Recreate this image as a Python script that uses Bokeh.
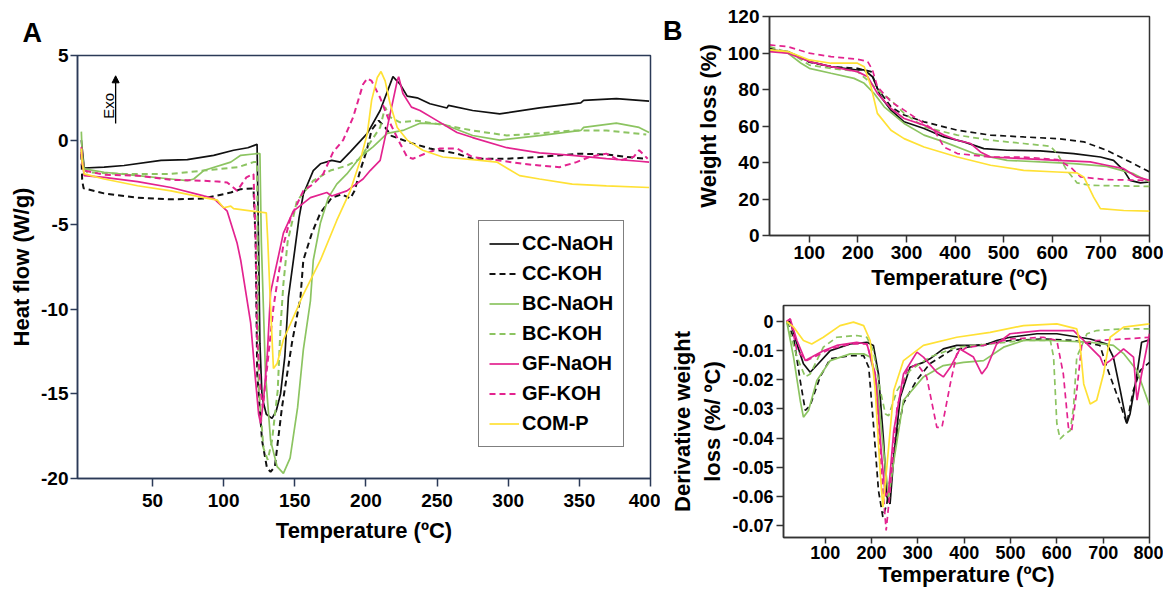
from bokeh.plotting import figure
from bokeh.models import FixedTicker, Label, Arrow, NormalHead, Range1d, LinearAxis
from bokeh.layouts import row, column
from bokeh.embed import file_html
from bokeh.resources import INLINE

SERIES = ["CC-NaOH", "CC-KOH", "BC-NaOH", "BC-KOH", "GF-NaOH", "GF-KOH", "COM-P"]
COLORS = ["#111111", "#111111", "#8cc461", "#8cc461", "#e3238f", "#e3238f", "#ffe135"]
DASHES = ["solid", "6 4", "solid", "6 4", "solid", "6 4", "solid"]

# ---------------- Panel A: DSC heat flow (W/g) vs temperature ----------------
a_cc_naoh_x = [0, 0.6, 2, 16, 30, 56, 74.5, 93, 107, 117, 123.5, 124.5, 125.5, 127, 130, 134, 137, 140, 143, 145.5,
               150, 153, 156, 163, 168, 176, 182, 189, 201, 210, 219, 224, 229, 236, 245, 257, 258, 275, 294, 322,
               351, 353, 376, 399]
a_cc_naoh_y = [0.0, -0.5, -1.65, -1.6, -1.5, -1.2, -1.15, -0.9, -0.6, -0.45, -0.25, -6.0, -12.0, -15.2, -16.2, -16.45,
               -16.0, -15.0, -12.8, -9.3, -6.5, -4.6, -3.2, -1.8, -1.4, -1.2, -1.3, -0.7, 0.4, 1.75, 3.75, 3.3, 2.6,
               2.5, 2.15, 1.9, 2.05, 1.75, 1.55, 1.9, 2.2, 2.35, 2.45, 2.3]
a_cc_koh_x = [0, 0.6, 1.6, 16, 39.5, 63, 86, 105, 112, 121, 122.5, 123.6, 127, 130.5, 133, 136, 141, 148, 154, 156,
              162, 168, 176, 183, 189, 192, 196, 200.6, 204, 209, 213.5, 218, 231, 245, 264, 275, 299, 322, 350, 369,
              383, 397]
a_cc_koh_y = [-0.8, -2.4, -2.85, -3.15, -3.4, -3.5, -3.45, -3.1, -2.9, -2.85, -6.0, -13.8, -17.75, -19.4, -19.6, -19.3,
              -15.8, -12.0, -9.3, -7.1, -5.5, -4.3, -3.4, -3.2, -3.45, -3.0, -1.8, -0.6, 0.6, 1.15, 0.75, 0.25, -0.15,
              -0.5, -0.8, -1.1, -1.1, -1.0, -0.8, -0.85, -1.0, -1.1]
a_bc_naoh_x = [0, 0.6, 2, 16, 39.5, 63, 74.5, 79, 86, 105, 112, 123.5, 125.5, 126.5, 129.4, 133, 137.6, 142, 146.7,
               152, 156, 161, 163, 168, 173.6, 179.5, 186.6, 196, 205, 215, 226, 238, 254, 275, 294, 322, 351, 353,
               376, 392, 399]
a_bc_naoh_y = [0.5, -0.8, -1.7, -1.9, -2.1, -2.3, -2.4, -2.3, -1.8, -1.3, -0.9, -0.8, -0.8, -6.0, -13.8, -17.75, -19.3,
               -19.7, -18.8, -15.8, -12.4, -9.5, -7.1, -4.9, -3.4, -2.6, -2.0, -1.0, -0.4, 0.4, 0.57, 1.0, 0.95, 0.27,
               0.0, 0.27, 0.57, 0.75, 1.0, 0.75, 0.45]
a_bc_koh_x = [0, 0.6, 4, 30, 63, 86, 110, 121, 123.5, 124.6, 128, 131, 134, 138, 140, 142, 145, 151.5, 163, 175,
              187, 196, 201, 210, 213.5, 217, 224, 236, 254, 275, 299, 322, 345, 369, 397]
a_bc_koh_y = [-0.5, -1.5, -1.9, -2.0, -2.0, -1.8, -1.6, -1.3, -1.3, -14.6, -18.2, -18.9, -17.75, -14.8, -11.0, -8.5,
              -6.0, -3.6, -2.4, -1.8, -1.5, -1.1, -0.4, 0.75, 1.95, 1.35, 1.05, 1.15, 0.9, 0.57, 0.27, 0.4, 0.57, 0.57,
              0.33]
a_gf_naoh_x = [0, 0.6, 2, 16, 39.5, 63, 86, 93, 102.5, 109.5, 112, 119, 122, 124.6, 126, 128, 130.6, 133, 142, 149,
               161, 172.5, 176, 186.6, 198, 203, 210, 215, 222, 223, 226, 232, 238, 250, 264, 275, 299, 322, 345, 369,
               392, 399]
a_gf_naoh_y = [-0.4, -1.2, -2.1, -2.2, -2.45, -2.8, -3.3, -3.45, -4.2, -6.1, -7.1, -10.8, -13.8, -16.2, -16.75, -15.4,
               -12.8, -9.0, -5.5, -4.2, -3.4, -3.1, -3.3, -3.0, -2.3, -1.8, -1.2, 0.75, 3.5, 3.75, 2.75, 1.95, 1.75,
               1.15, 0.45, 0.15, -0.45, -0.75, -0.9, -1.1, -1.25, -1.3]
a_gf_koh_x = [0, 0.6, 2, 16, 39.5, 63, 86, 95.6, 102.5, 109.5, 116, 121, 122.5, 123.6, 126, 127.5, 130.6, 135, 137.5,
              142, 147, 156, 163, 170, 177, 184, 191, 198, 201, 204, 210, 217, 224, 229, 233, 243, 252, 264, 275, 294,
              310, 322, 336, 348, 357, 369, 378, 388, 392, 398]
a_gf_koh_y = [-0.7, -1.4, -1.8, -2.05, -2.1, -2.35, -2.4, -2.45, -2.5, -3.0, -2.2, -2.0, -6.0, -11.8, -14.8, -15.8,
              -13.4, -9.9, -8.5, -6.2, -4.6, -3.0, -2.6, -2.0, -0.7, 0.0, 1.35, 3.3, 3.65, 3.5, 2.5, 1.0, -0.2, -1.0,
              -1.1, -0.75, -0.5, -0.5, -1.0, -1.2, -1.4, -1.5, -1.6, -1.3, -1.0, -0.8, -1.2, -1.0, -0.6, -1.1]
a_com_p_x = [0, 0.6, 2, 16, 39.5, 63, 86, 95.6, 100, 105, 107, 130, 131, 133, 135, 137.6, 142, 152, 155, 168,
             179.5, 189, 196, 201, 204, 208, 210.6, 213.5, 217, 222, 229, 240, 254, 275, 292, 308, 322, 345, 369, 399]
a_com_p_y = [-0.5, -1.3, -2.0, -2.3, -2.7, -3.0, -3.4, -3.55, -4.0, -3.9, -4.05, -4.3, -5.9, -9.9, -13.5, -13.2, -11.8,
             -9.9, -9.3, -7.1, -4.75, -3.0, -1.2, 0.4, 2.35, 3.7, 4.05, 3.5, 2.15, 0.75, 0.0, -0.6, -1.0, -1.15, -1.3,
             -2.1, -2.3, -2.6, -2.7, -2.8]

# ---------------- Panel B (top): weight loss (%) ----------------
b1_cc_naoh_x = [18, 55.5, 100, 144.5, 199, 213, 230, 247, 268, 295, 336, 377, 418, 459, 507, 575, 644, 699, 726, 747,
                760, 781, 800]
b1_cc_naoh_y = [101.7, 100.8, 95.3, 92.5, 90.7, 90.7, 87, 76, 68.7, 62.3, 58.6, 54, 51.3, 47.6, 46.7, 46.4, 44.9, 43,
                41.2, 35.7, 30.2, 28.8, 29.3]
b1_cc_koh_x = [18, 62, 100, 144.5, 199, 227, 240, 268, 295, 336, 404.5, 473, 541, 610, 665, 712, 740, 767, 800]
b1_cc_koh_y = [102.6, 99.9, 95, 92.5, 91.6, 89.8, 80.6, 70.5, 66, 62.3, 57.7, 55, 54, 53.1, 51.3, 46.7, 43, 39.4, 34.8]
b1_bc_naoh_x = [18, 55.5, 83, 100, 144.5, 192, 213, 233, 254, 295, 336, 377, 439, 507, 575, 644, 712, 767, 800]
b1_bc_naoh_y = [101.7, 99.9, 94.4, 91.6, 88.9, 86.1, 83.4, 77.9, 70.5, 61.4, 55, 51.3, 44.9, 41.2, 40.3, 39.4, 37.9,
                33.9, 29.3]
b1_bc_koh_x = [18, 62, 100, 144.5, 199, 227, 240, 268, 295, 336, 404.5, 473, 541, 596, 610, 630, 651, 678, 800]
b1_bc_koh_y = [103.5, 99.9, 93.4, 91.6, 89.8, 83.4, 79.7, 74.2, 66.9, 59.5, 55, 52.2, 50.4, 48.9, 44.9, 35.7, 28.8,
               27.5, 26.9]
b1_gf_naoh_x = [18, 55.5, 100, 144.5, 199, 220, 240, 268, 295, 336, 377, 404.5, 432, 452, 473, 541, 610, 678, 712,
                747, 774, 800]
b1_gf_naoh_y = [100.8, 99.9, 95.3, 92.5, 89.8, 87, 77.9, 69.6, 64.1, 60.5, 55, 52.2, 50.4, 45.8, 43, 42.1, 41.2, 40.3,
                38.5, 36.6, 32.1, 30.2]
b1_gf_koh_x = [18, 55.5, 100, 144.5, 199, 220, 230, 240, 268, 295, 336, 357, 377, 404.5, 473, 541, 610, 637, 658, 712,
               800]
b1_gf_koh_y = [104.4, 103.5, 99.9, 98, 96.6, 95.3, 90.7, 81.5, 73.3, 68.7, 61.4, 57.7, 48.5, 44.9, 43, 43, 41.6, 37.6,
               32.1, 30.6, 30.2]
b1_com_p_x = [18, 55.5, 100, 144.5, 199, 213, 227, 240, 268, 295, 336, 404.5, 473, 541, 610, 651, 665, 685, 699, 747,
              800]
b1_com_p_y = [101.7, 100.8, 96.2, 94.4, 94.4, 92.5, 81.5, 66.9, 57.7, 53.1, 48.5, 43, 38.5, 35.7, 34.8, 34.3, 32, 21,
              14.7, 13.7, 13.4]

# ---------------- Panel B (bottom): derivative weight loss (%/ºC) ----------------
b2_cc_naoh_x = [17, 24.5, 39, 53, 67.6, 82, 111, 154, 190, 204, 215, 226, 233, 240, 248, 262, 283, 312, 326, 355,
                384, 442, 470, 499, 557, 600, 672, 708, 722, 737, 751, 758, 773, 783, 800]
b2_cc_naoh_y = [0, 0, -0.0077, -0.0145, -0.0174, -0.015, -0.01, -0.0077, -0.0071, -0.0082, -0.018, -0.041, -0.06,
                -0.0626, -0.0465, -0.026, -0.0157, -0.014, -0.0128, -0.0094, -0.0082, -0.0082, -0.0065, -0.0054,
                -0.0042, -0.0042, -0.006, -0.0077, -0.0122, -0.0237, -0.035, -0.0317, -0.018, -0.0071, -0.0063]
b2_cc_koh_x = [17, 31.7, 46, 57, 67.6, 89, 111, 154, 183, 194, 204, 215, 224.5, 233, 248, 269, 298, 326, 370, 427,
               499, 571, 636, 693, 708, 729, 744, 751, 765, 780, 800]
b2_cc_koh_y = [0, -0.0054, -0.0202, -0.0305, -0.0288, -0.019, -0.0128, -0.0117, -0.0117, -0.0157, -0.035, -0.058,
               -0.0671, -0.0626, -0.0443, -0.028, -0.02, -0.0145, -0.01, -0.0082, -0.0065, -0.006, -0.0065, -0.0082,
               -0.0157, -0.0248, -0.0317, -0.035, -0.0237, -0.0168, -0.014]
b2_bc_naoh_x = [17, 31.7, 46, 53, 64, 82, 111, 154, 183, 197, 211.5, 226, 237, 248, 269, 312, 355, 398.5, 442, 485,
                528, 586, 672, 722, 744, 773, 800]
b2_bc_naoh_y = [0, -0.0122, -0.027, -0.0328, -0.0305, -0.0202, -0.0134, -0.0111, -0.0111, -0.0122, -0.0214, -0.0443,
                -0.0603, -0.048, -0.027, -0.019, -0.0151, -0.014, -0.0134, -0.0088, -0.0065, -0.0065, -0.0071,
                -0.0082, -0.011, -0.0168, -0.0288]
b2_bc_koh_x = [17, 39, 57, 67.6, 96, 125, 168, 190, 204, 219, 230, 237, 255, 283, 326, 384, 456, 528, 586, 593,
               600, 607, 618, 629, 636, 643, 665, 686, 744, 800]
b2_bc_koh_y = [0, -0.0122, -0.019, -0.018, -0.0088, -0.0054, -0.0048, -0.0054, -0.01, -0.0237, -0.0317, -0.0323,
               -0.0237, -0.0168, -0.0122, -0.0088, -0.0077, -0.0065, -0.0065, -0.0122, -0.035, -0.0403, -0.0385,
               -0.0374, -0.0294, -0.0122, -0.0042, -0.0031, -0.0025, -0.0025]
b2_gf_naoh_x = [17, 24.5, 39, 57, 71, 96, 125, 168, 190, 208, 222, 230, 237, 248, 269, 298, 312, 341, 355, 370,
                391, 420, 438, 449, 470, 499, 564, 636, 658, 672, 693.5, 700.7, 715, 744, 765.5, 773, 783, 800]
b2_gf_naoh_y = [0, 0.0009, -0.0065, -0.0134, -0.0122, -0.01, -0.0082, -0.0071, -0.0077, -0.018, -0.0465, -0.06,
                -0.058, -0.0374, -0.018, -0.0105, -0.0122, -0.0174, -0.019, -0.0157, -0.0094, -0.0122, -0.018,
                -0.0157, -0.0077, -0.0042, -0.0031, -0.0031, -0.0065, -0.0088, -0.0122, -0.015, -0.0134, -0.0094,
                -0.0122, -0.027, -0.018, -0.0042]
b2_gf_koh_x = [17, 24.5, 39, 60.4, 82, 111, 154, 190, 208, 222, 231.6, 240, 255, 276, 298, 319, 341, 352, 370, 384,
               406, 442, 499, 571, 600, 614, 625, 632, 643, 654, 686, 744, 800]
b2_gf_koh_y = [0, 0.0009, -0.01, -0.0134, -0.0117, -0.0094, -0.0077, -0.0077, -0.018, -0.0523, -0.0717, -0.058,
               -0.0294, -0.0168, -0.0145, -0.019, -0.0363, -0.0363, -0.0214, -0.0111, -0.0088, -0.0082, -0.006,
               -0.0054, -0.0065, -0.018, -0.0363, -0.0374, -0.0237, -0.0077, -0.0065, -0.006, -0.0054]
b2_com_p_x = [17, 31.7, 53, 71, 96, 132, 161, 183, 197, 208, 219, 224.5, 233, 248, 269, 312, 384, 456, 528, 600,
              643, 650, 658, 672, 686, 700.7, 715, 744, 800]
b2_com_p_y = [0, -0.0019, -0.0065, -0.0077, -0.0054, -0.0014, -0.0002, -0.0014, -0.0065, -0.0237, -0.0523, -0.0637,
              -0.05, -0.0237, -0.0134, -0.0082, -0.0054, -0.0037, -0.0014, -0.0008, -0.0025, -0.0077, -0.0214,
              -0.0283, -0.027, -0.018, -0.0054, -0.0019, -0.0008]

A_X_TICKS = [50, 100, 150, 200, 250, 300, 350, 400]
A_Y_TICKS = [-20, -15, -10, -5, 0, 5]
A_Y_LABELS = ["-20", "-15", "-10", "-5", "0", "5"]
B_X_TICKS = [100, 200, 300, 400, 500, 600, 700, 800]
B1_Y_TICKS = [0, 20, 40, 60, 80, 100, 120]
B2_Y_TICKS = [0, -0.01, -0.02, -0.03, -0.04, -0.05, -0.06, -0.07]
B2_Y_LABELS = ["0", "-0.01", "-0.02", "-0.03", "-0.04", "-0.05", "-0.06", "-0.07"]

A_DATA = [(a_cc_naoh_x, a_cc_naoh_y), (a_cc_koh_x, a_cc_koh_y), (a_bc_naoh_x, a_bc_naoh_y), (a_bc_koh_x, a_bc_koh_y),
          (a_gf_naoh_x, a_gf_naoh_y), (a_gf_koh_x, a_gf_koh_y), (a_com_p_x, a_com_p_y)]
B1_DATA = [(b1_cc_naoh_x, b1_cc_naoh_y), (b1_cc_koh_x, b1_cc_koh_y), (b1_bc_naoh_x, b1_bc_naoh_y),
           (b1_bc_koh_x, b1_bc_koh_y), (b1_gf_naoh_x, b1_gf_naoh_y), (b1_gf_koh_x, b1_gf_koh_y),
           (b1_com_p_x, b1_com_p_y)]
B2_DATA = [(b2_cc_naoh_x, b2_cc_naoh_y), (b2_cc_koh_x, b2_cc_koh_y), (b2_bc_naoh_x, b2_bc_naoh_y),
           (b2_bc_koh_x, b2_bc_koh_y), (b2_gf_naoh_x, b2_gf_naoh_y), (b2_gf_koh_x, b2_gf_koh_y),
           (b2_com_p_x, b2_com_p_y)]

FONT = "Liberation Sans"


def style(p, axis_color, tick_size):
    for ax in p.axis:
        ax.axis_line_color = axis_color
        ax.axis_line_width = 1.5
        ax.major_tick_line_color = axis_color
        ax.major_tick_line_width = 1.5
        ax.major_tick_in = 0
        ax.major_tick_out = 7
        ax.minor_tick_line_color = None
        ax.major_label_text_font = FONT
        ax.major_label_text_font_style = "bold"
        ax.major_label_text_font_size = tick_size
        ax.major_label_text_color = "#000000"
        ax.major_label_standoff = 3
        ax.axis_label_text_font = FONT
        ax.axis_label_text_font_style = "bold"
        ax.axis_label_text_font_size = "22px"
        ax.axis_label_text_color = "#000000"
        ax.axis_label_standoff = 4
    p.xgrid.visible = False
    p.ygrid.visible = False
    p.outline_line_color = axis_color
    p.outline_line_width = 1.5
    p.background_fill_color = "white"
    p.border_fill_color = "white"
    p.frame_align = False


# ---------------- Panel A figure ----------------
pA = figure(width=660, height=590, x_range=Range1d(-2.7, 400), y_range=Range1d(-20, 5),
            output_backend="svg", toolbar_location=None,
            min_border_left=77, min_border_right=10, min_border_top=55, min_border_bottom=112)
for (xs, ys), name, c, d in zip(A_DATA, SERIES, COLORS, DASHES):
    pA.line(xs, ys, line_color=c, line_dash=d, line_width=2.0 if d != "solid" else 1.7, legend_label=name)
style(pA, "#2b3a57", "19px")
pA.xaxis.ticker = FixedTicker(ticks=A_X_TICKS)
pA.yaxis.ticker = FixedTicker(ticks=A_Y_TICKS)
pA.yaxis.major_label_overrides = {t: s for t, s in zip(A_Y_TICKS, A_Y_LABELS)}
pA.xaxis.axis_label = "Temperature (ºC)"
pA.yaxis.axis_label = "Heat flow (W/g)"
pA.xaxis.major_tick_out = 8
pA.xaxis.major_label_standoff = 7
pA.xaxis.axis_label_standoff = 8
pA.yaxis.major_label_standoff = 2
pA.yaxis.axis_label_standoff = 4

pA.title.text = "A"
pA.title.align = "left"
pA.title.offset = -55
pA.title.standoff = 16
pA.title.text_font = FONT
pA.title.text_font_style = "bold"
pA.title.text_font_size = "27px"
pA.title.text_color = "#000000"

lg = pA.legend[0]
lg.location = (401, 31)
lg.border_line_color = "#000000"
lg.border_line_width = 1.5
lg.padding = 10
lg.spacing = 5
lg.margin = 0
lg.glyph_width = 30
lg.glyph_height = 25
lg.label_height = 25
lg.label_standoff = 3
lg.label_text_font = FONT
lg.label_text_font_style = "bold"
lg.label_text_font_size = "20px"
lg.label_text_color = "#000000"
lg.background_fill_color = "white"
lg.background_fill_alpha = 1.0

pA.add_layout(Label(x=19.3, y=2.02, text="Exo", angle=90, angle_units="deg", text_font=FONT,
                    text_font_size="15px", text_color="#000000", text_align="center",
                    text_baseline="alphabetic"))
pA.add_layout(Arrow(end=NormalHead(size=7, fill_color="#000000", line_color="#000000"),
                    x_start=24.1, y_start=0.98, x_end=24.1, y_end=3.8,
                    line_color="#000000", line_width=1.3))

# ---------------- Panel B top ----------------
pB1 = figure(width=503, height=298, x_range=Range1d(18, 800), y_range=Range1d(0, 120),
             output_backend="svg", toolbar_location=None,
             min_border_left=108, min_border_right=14, min_border_top=16, min_border_bottom=63)
for (xs, ys), c, d in zip(B1_DATA, COLORS, DASHES):
    pB1.line(xs, ys, line_color=c, line_dash=d, line_width=1.7)
style(pB1, "#333333", "19px")
pB1.xaxis.ticker = FixedTicker(ticks=B_X_TICKS)
pB1.yaxis.ticker = FixedTicker(ticks=B1_Y_TICKS)
pB1.xaxis.axis_label = "Temperature (ºC)"
pB1.yaxis.axis_label = "Weight loss (%)"
pB1.xaxis.axis_label_standoff = 3
# panel letter "B" drawn as the single label of an extra (invisible) left axis
b_axis = LinearAxis(ticker=FixedTicker(ticks=[112.3]), major_label_overrides={112.3: "B"},
                    axis_line_color=None, major_tick_line_color=None, minor_tick_line_color=None,
                    major_tick_in=0, major_tick_out=0, major_label_standoff=10,
                    major_label_text_font=FONT, major_label_text_font_style="bold",
                    major_label_text_font_size="27px", major_label_text_color="#000000")
pB1.add_layout(b_axis, "left")

# ---------------- Panel B bottom ----------------
pB2 = figure(width=503, height=292, x_range=Range1d(10, 800), y_range=Range1d(-0.0741, 0.0055),
             output_backend="svg", toolbar_location=None,
             min_border_left=123, min_border_right=14, min_border_top=7, min_border_bottom=53)
for (xs, ys), c, d in zip(B2_DATA, COLORS, DASHES):
    pB2.line(xs, ys, line_color=c, line_dash=d, line_width=1.7)
style(pB2, "#333333", "18px")
pB2.xaxis.ticker = FixedTicker(ticks=B_X_TICKS)
pB2.yaxis.ticker = FixedTicker(ticks=B2_Y_TICKS)
pB2.yaxis.major_label_overrides = {t: s for t, s in zip(B2_Y_TICKS, B2_Y_LABELS)}
pB2.xaxis.axis_label = "Temperature (ºC)"
pB2.yaxis.axis_label = "Derivative weight\nloss (%/ ºC)"
pB2.xaxis.major_tick_out = 6
pB2.xaxis.major_label_standoff = 2
pB2.xaxis.axis_label_standoff = 0

layout = row(pA, column(pB1, pB2))
open("out.html", "w").write(file_html(layout, INLINE))
